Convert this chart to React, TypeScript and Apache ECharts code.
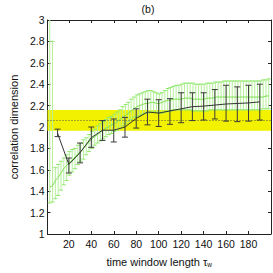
import React, { useEffect, useRef } from "react";
import * as echarts from "echarts";

// black series (tau = 10..190)
const blackTau = [10, 20, 30, 40, 50, 60, 70, 80, 90, 100, 110, 120, 130, 140, 150, 160, 170, 180, 190];
const blackMean = [1.94, 1.65, 1.76, 1.9, 1.97, 1.97, 2.0, 2.08, 2.14, 2.13, 2.15, 2.17, 2.19, 2.195, 2.205, 2.215, 2.22, 2.225, 2.235];
const blackUpper = [1.98, 1.71, 1.85, 2.0, 2.06, 2.075, 2.09, 2.17, 2.26, 2.255, 2.265, 2.32, 2.32, 2.32, 2.35, 2.39, 2.375, 2.39, 2.4];
const blackLower = [1.91, 1.57, 1.665, 1.81, 1.875, 1.86, 1.905, 1.99, 2.02, 2.005, 2.025, 2.04, 2.06, 2.065, 2.075, 2.055, 2.05, 2.055, 2.065];

// green series
const greenTau = [3, 5.5, 8, 10.5, 13, 15.5, 18, 20.5, 23, 25.5, 28, 30.5, 33, 35.5, 38, 40.5, 43, 45.5, 48, 50.5, 53, 55.5, 58, 60.5, 63, 65.5, 68, 70.5, 73, 75.5, 78, 80.5, 83, 85.5, 88, 90.5, 93, 95.5, 98, 100.5, 103, 105.5, 108, 110.5, 113, 115.5, 118, 120.5, 123, 125.5, 128, 130.5, 133, 135.5, 138, 140.5, 143, 145.5, 148, 150.5, 153, 155.5, 158, 160.5, 163, 165.5, 168, 170.5, 173, 175.5, 178, 180.5, 183, 185.5, 188, 190.5, 193, 195.5, 198];
const greenLower = [1.29, 1.3, 1.33, 1.36, 1.41, 1.46, 1.5, 1.55, 1.58, 1.61, 1.65, 1.68, 1.7, 1.74, 1.77, 1.8, 1.83, 1.85, 1.87, 1.89, 1.91, 1.93, 1.94, 1.96, 1.97, 1.99, 2.01, 2.03, 2.05, 2.07, 2.09, 2.1, 2.11, 2.12, 2.13, 2.13, 2.14, 2.14, 2.14, 2.13, 2.13, 2.14, 2.15, 2.15, 2.16, 2.16, 2.16, 2.16, 2.16, 2.16, 2.16, 2.15, 2.15, 2.15, 2.15, 2.15, 2.15, 2.16, 2.16, 2.16, 2.16, 2.16, 2.16, 2.16, 2.16, 2.16, 2.16, 2.16, 2.16, 2.16, 2.16, 2.16, 2.16, 2.16, 2.16, 2.16, 2.17, 2.17, 2.17];
const greenMean = [1.44, 1.45, 1.5, 1.53, 1.57, 1.61, 1.64, 1.67, 1.69, 1.72, 1.75, 1.77, 1.8, 1.83, 1.86, 1.89, 1.91, 1.93, 1.95, 1.97, 1.99, 2.0, 2.02, 2.03, 2.05, 2.07, 2.09, 2.11, 2.13, 2.15, 2.17, 2.19, 2.2, 2.21, 2.22, 2.22, 2.23, 2.23, 2.22, 2.22, 2.23, 2.24, 2.25, 2.25, 2.26, 2.26, 2.26, 2.26, 2.27, 2.27, 2.27, 2.26, 2.26, 2.26, 2.26, 2.26, 2.27, 2.27, 2.27, 2.28, 2.28, 2.28, 2.28, 2.28, 2.28, 2.28, 2.28, 2.28, 2.28, 2.28, 2.28, 2.28, 2.28, 2.28, 2.28, 2.28, 2.28, 2.29, 2.29];
const greenUpper = [3.3, 2.8, 1.62, 1.65, 1.68, 1.71, 1.74, 1.77, 1.79, 1.8, 1.83, 1.85, 1.88, 1.9, 1.93, 1.96, 1.98, 2.01, 2.03, 2.05, 2.07, 2.09, 2.1, 2.12, 2.14, 2.16, 2.19, 2.21, 2.23, 2.26, 2.28, 2.3, 2.31, 2.32, 2.33, 2.34, 2.34, 2.33, 2.32, 2.31, 2.32, 2.34, 2.36, 2.37, 2.38, 2.39, 2.39, 2.4, 2.41, 2.41, 2.41, 2.41, 2.4, 2.4, 2.4, 2.4, 2.41, 2.41, 2.41, 2.42, 2.42, 2.42, 2.43, 2.43, 2.43, 2.43, 2.43, 2.43, 2.43, 2.43, 2.43, 2.43, 2.43, 2.43, 2.43, 2.43, 2.44, 2.44, 2.45];

// reference band
const bandLow = 1.965;
const bandHigh = 2.16;
const bandLine = 2.06;

const xTicks = [20, 40, 60, 80, 100, 120, 140, 160, 180];
const X_MIN = 1;
const X_MAX = 200;
const Y_MIN = 1;
const Y_MAX = 3;

function errorBarRenderer(stroke: string, capStroke: string, capHalf: number) {
  return (params: any, api: any) => {
    const x = api.value(0);
    const lo = api.value(1);
    const hi = api.value(2);
    const hiC = Math.min(hi, Y_MAX);
    const loC = Math.max(lo, Y_MIN);
    const pHi = api.coord([x, hiC]);
    const pLo = api.coord([x, loC]);
    const children: any[] = [
      { type: "line", shape: { x1: pHi[0], y1: pHi[1], x2: pLo[0], y2: pLo[1] }, style: { stroke, lineWidth: 1 } },
    ];
    if (hi <= Y_MAX) {
      children.push({ type: "line", shape: { x1: pHi[0] - capHalf, y1: pHi[1], x2: pHi[0] + capHalf, y2: pHi[1] }, style: { stroke: capStroke, lineWidth: 1 } });
    }
    if (lo >= Y_MIN) {
      children.push({ type: "line", shape: { x1: pLo[0] - capHalf, y1: pLo[1], x2: pLo[0] + capHalf, y2: pLo[1] }, style: { stroke: capStroke, lineWidth: 1 } });
    }
    return { type: "group", children };
  };
}

export default function App() {
  const ref = useRef<HTMLDivElement>(null);
  useEffect(() => {
    if (!ref.current) return;
    const chart = echarts.init(ref.current, null, { renderer: "svg" });
    const font = "Liberation Sans";
    const axisCommon = {
      type: "value" as const,
      splitLine: { show: false },
      axisLine: { show: true, onZero: false, lineStyle: { color: "#222", width: 1 } },
    };
    chart.setOption({
      animation: false,
      backgroundColor: "#fff",
      textStyle: { fontFamily: font },
      grid: { left: 25, top: 20, right: 2, bottom: 31, containLabel: false },
      graphic: [
        { type: "text", x: 148, y: 9, style: { text: "(b)", fontFamily: font, fontSize: 10.5, fill: "#111", textAlign: "center", textVerticalAlign: "middle" } },
      ],
      xAxis: [
        {
          ...axisCommon,
          position: "bottom",
          min: X_MIN,
          max: X_MAX,
          axisTick: { show: true, inside: true, length: 3, customValues: xTicks, lineStyle: { color: "#222" } },
          axisLabel: { show: true, customValues: xTicks, fontSize: 10.5, color: "#111", margin: 4, fontFamily: font },
          name: "time window length {t|τ}{s|w}",
          nameLocation: "middle",
          nameGap: 22,
          nameTextStyle: {
            fontSize: 11,
            color: "#111",
            fontFamily: font,
            rich: {
              t: { fontSize: 11, color: "#111", fontFamily: font },
              s: { fontSize: 6.5, color: "#111", fontFamily: font, padding: [5, 0, 0, 0] },
            },
          },
        },
        {
          ...axisCommon,
          position: "top",
          min: X_MIN,
          max: X_MAX,
          axisTick: { show: true, inside: true, length: 3, customValues: xTicks, lineStyle: { color: "#222" } },
          axisLabel: { show: false },
        },
      ],
      yAxis: [
        {
          ...axisCommon,
          position: "left",
          min: Y_MIN,
          max: Y_MAX,
          interval: 0.2,
          axisTick: { show: true, inside: true, length: 3, lineStyle: { color: "#222" } },
          axisLabel: {
            fontSize: 10.5,
            color: "#111",
            margin: 3,
            fontFamily: font,
            formatter: (v: number) => String(Math.round(v * 10) / 10),
          },
          name: "correlation dimension",
          nameLocation: "middle",
          nameGap: 16,
          nameRotate: 90,
          nameTextStyle: { fontSize: 11, color: "#111", fontFamily: font },
        },
        {
          ...axisCommon,
          position: "right",
          min: Y_MIN,
          max: Y_MAX,
          interval: 0.2,
          axisTick: { show: true, inside: true, length: 3, lineStyle: { color: "#222" } },
          axisLabel: { show: false },
        },
      ],
      series: [
        {
          type: "line",
          data: [],
          z: 0,
          silent: true,
          markArea: {
            silent: true,
            itemStyle: { color: "#f2f200", opacity: 1 },
            data: [[{ yAxis: bandLow }, { yAxis: bandHigh }]],
          },
        },
        {
          type: "custom",
          z: 2,
          silent: true,
          renderItem: errorBarRenderer("#b5f09a", "#8ee86a", 2),
          encode: { x: 0, y: [1, 2] },
          data: greenTau.map((t, i) => [t, greenLower[i], greenUpper[i]]),
        },
        {
          type: "line",
          z: 3,
          silent: true,
          showSymbol: false,
          symbol: "none",
          lineStyle: { color: "#7be050", width: 1 },
          data: greenTau.map((t, i) => [t, greenMean[i]]),
        },
        {
          type: "line",
          z: 4,
          data: [],
          silent: true,
          markLine: {
            silent: true,
            symbol: "none",
            label: { show: false },
            lineStyle: { color: "#5a5a3a", type: [1, 2], width: 1 },
            data: [{ yAxis: bandLine }],
          },
        },
        {
          type: "custom",
          z: 5,
          silent: true,
          renderItem: errorBarRenderer("#3a3a3a", "#3a3a3a", 3),
          encode: { x: 0, y: [1, 2] },
          data: blackTau.map((t, i) => [t, blackLower[i], blackUpper[i]]),
        },
        {
          type: "line",
          z: 6,
          silent: true,
          showSymbol: false,
          symbol: "none",
          lineStyle: { color: "#333", width: 1 },
          data: blackTau.map((t, i) => [t, blackMean[i]]),
        },
      ],
    });
    return () => chart.dispose();
  }, []);
  return <div ref={ref} style={{ width: 273, height: 273, position: "absolute", left: 0, top: 0 }} />;
}
